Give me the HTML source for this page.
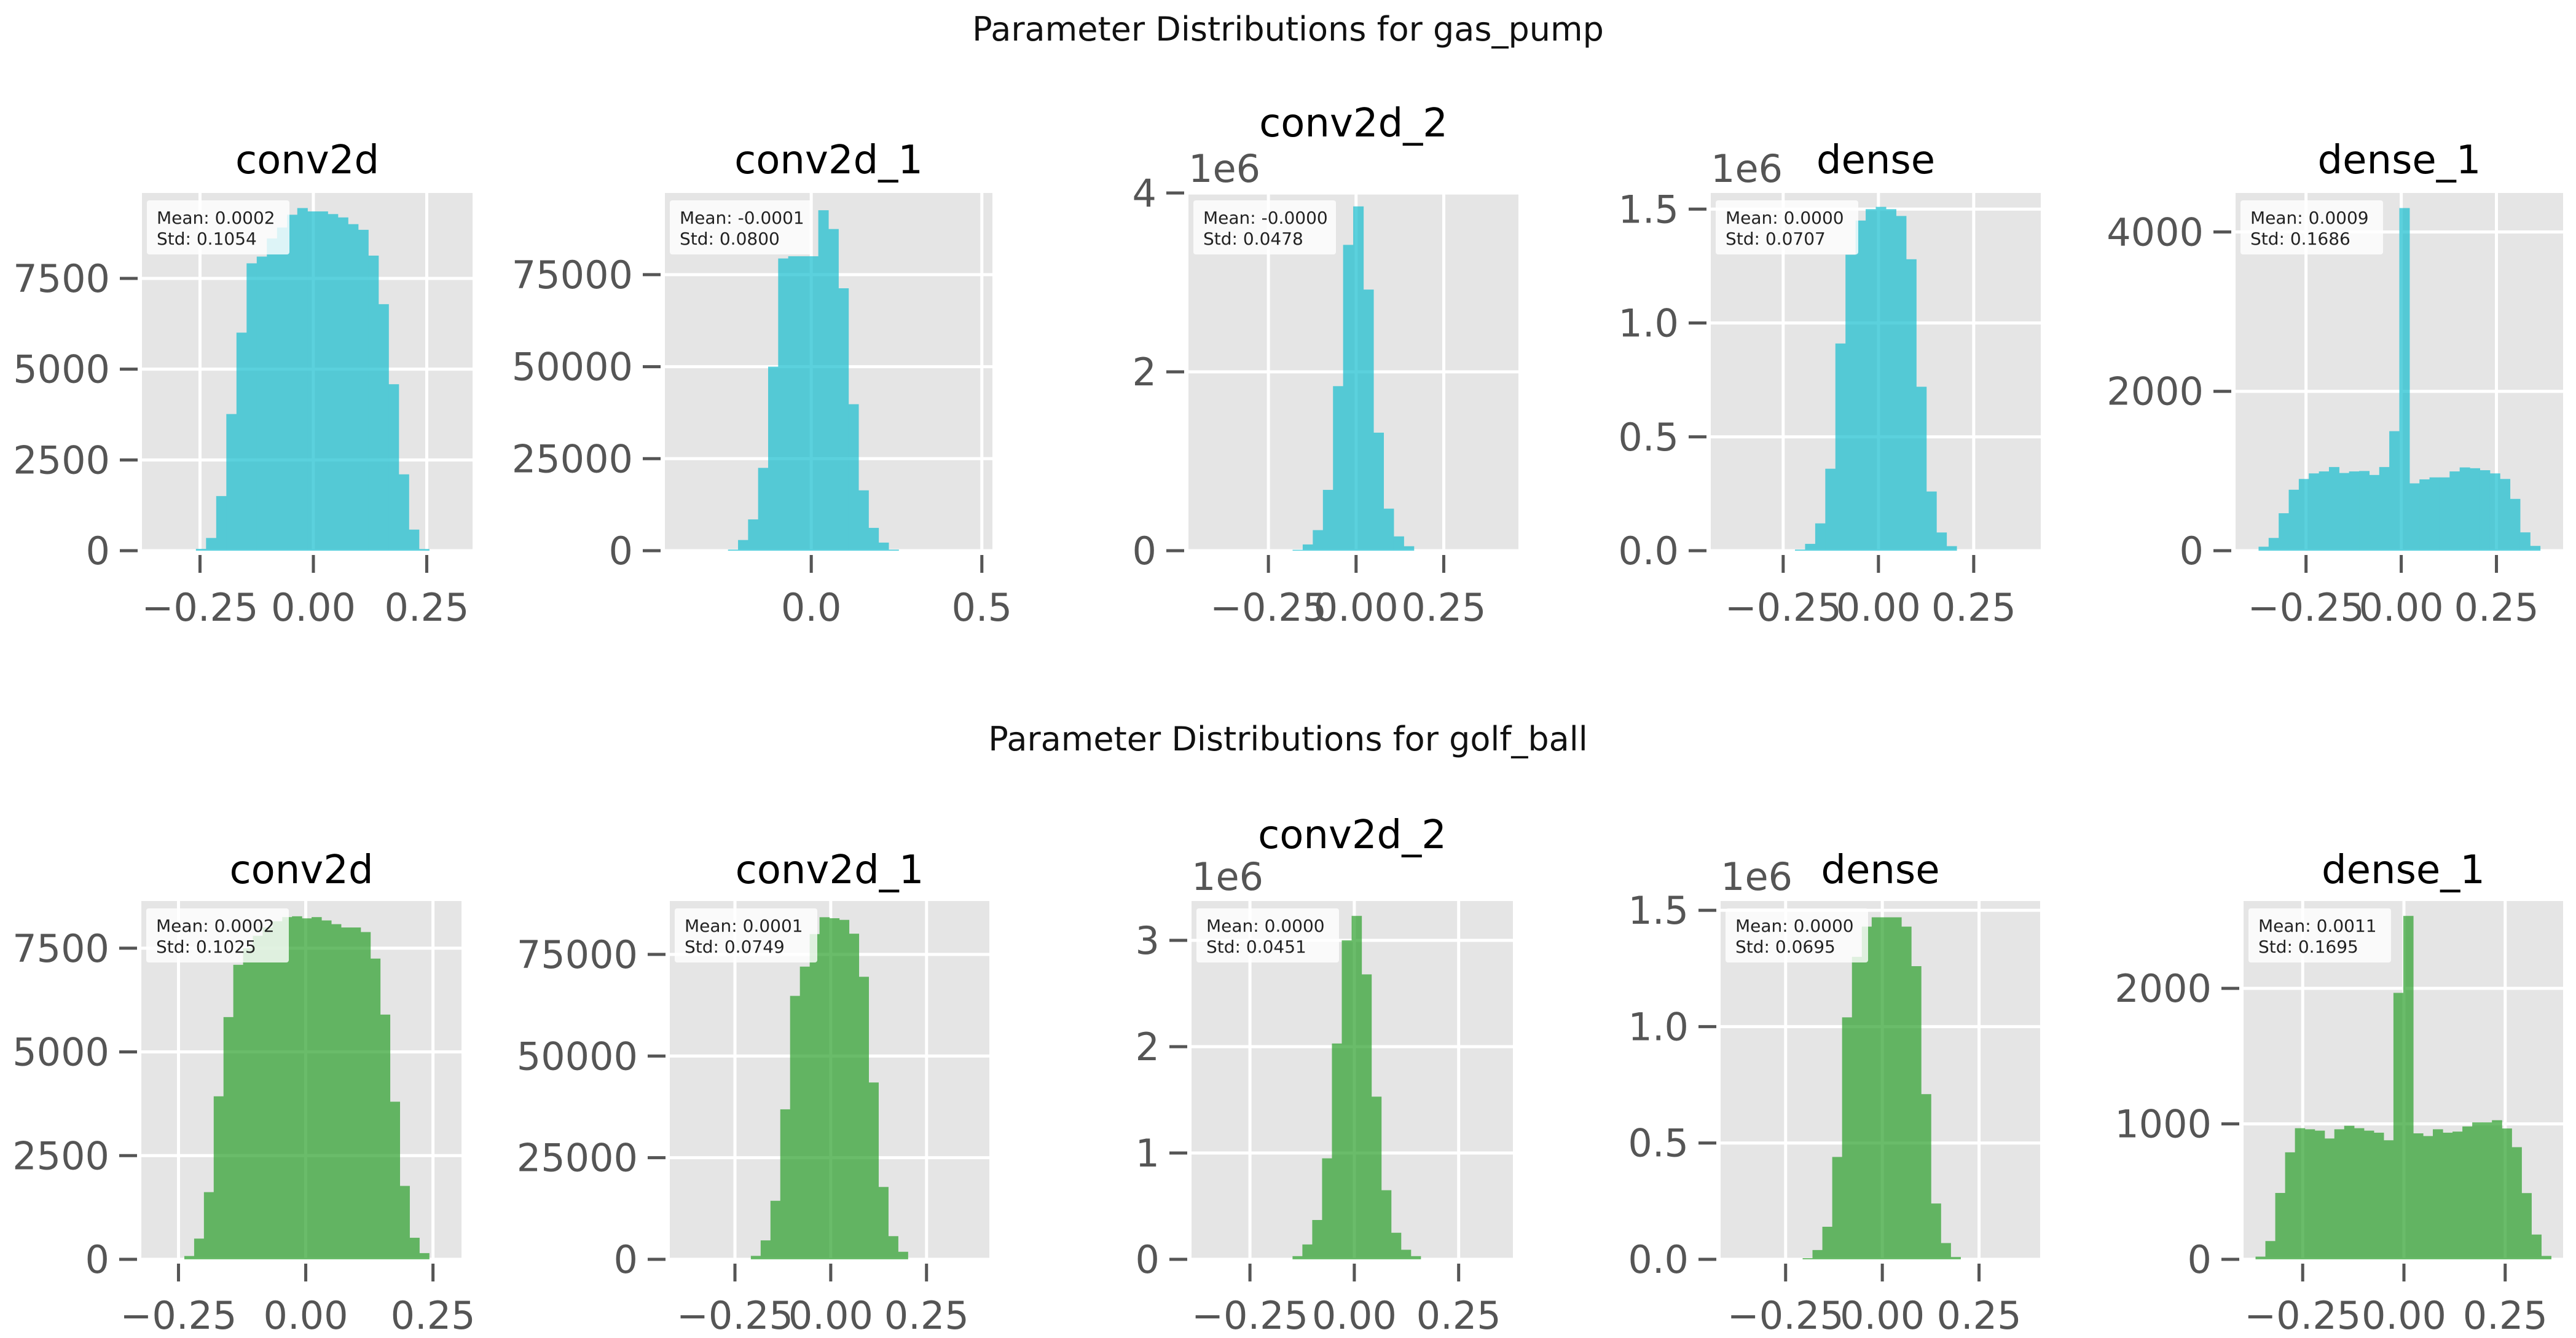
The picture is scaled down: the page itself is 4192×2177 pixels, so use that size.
<!DOCTYPE html>
<html><head><meta charset="utf-8">
<style>
html,body{margin:0;padding:0;background:#fff;}
svg{display:block;font-family:"DejaVu Sans","Liberation Sans",sans-serif;}
</style></head>
<body>
<svg id="fig" width="4192" height="2177" viewBox="0 0 4192 2177" xmlns="http://www.w3.org/2000/svg">
<rect width="4192" height="2177" fill="#ffffff"/>
<text x="2096" y="66" font-size="54" text-anchor="middle" fill="#111">Parameter Distributions for gas_pump</text>
<text x="2096" y="1221" font-size="54" text-anchor="middle" fill="#111">Parameter Distributions for golf_ball</text>
<g id="panels"></g>
</svg>
<script>
// ---------- data: gas_pump ----------
const gasConv2dCounts = [50,350,1504,3764,6006,7915,8100,8600,8900,9253,9437,9345,9345,9271,9179,8994,8838,8127,6790,4585,2103,581,46];
const gasConv2dBins = [-0.259,0.02235];
const gasConv2dXlim = [-0.378,0.351];
const gasConv2dYticks = [0,2500,5000,7500];
const gasConv2dYmax = 9852;

const gasConv2d1Counts = [300,2900,8500,22500,50000,79400,80000,80000,80000,92500,87400,71300,39800,16400,6200,2200,300];
const gasConv2d1Bins = [-0.244,0.0294];
const gasConv2d1Xlim = [-0.429,0.531];
const gasConv2d1Yticks = [0,25000,50000,75000];
const gasConv2d1Ymax = 97190;
const gasConv2d1Xticks = [0,0.5];
const gasConv2d1Xlabels = ["0.0","0.5"];

const gasConv2d2Counts = [0.01,0.07,0.23,0.68,1.84,3.42,3.85,2.92,1.32,0.47,0.16,0.05];
const gasConv2d2Bins = [-0.181,0.0288];
const gasConv2d2Xlim = [-0.478,0.463];
const gasConv2d2Yticks = [0,2,4];
const gasConv2d2Ymax = 4.0;

const gasDenseCounts = [0.005,0.03,0.12,0.36,0.91,1.30,1.45,1.50,1.51,1.50,1.47,1.28,0.72,0.26,0.08,0.02];
const gasDenseBins = [-0.219,0.0265];
const gasDenseXlim = [-0.44,0.426];
const gasDenseYticks = [0,0.5,1.0,1.5];
const gasDenseYlabels = ["0.0","0.5","1.0","1.5"];
const gasDenseYmax = 1.571;

const gasDense1Counts = [50,160,470,765,900,970,995,1050,975,995,1000,950,1050,1500,4300,845,895,920,920,995,1045,1035,1010,970,900,650,230,60];
const gasDense1Bins = [-0.3746,0.0264];
const gasDense1Xlim = [-0.435,0.425];
const gasDense1Yticks = [0,2000,4000];
const gasDense1Ymax = 4489;

// ---------- data: golf_ball ----------
const golfConv2dCounts = [80,500,1620,3930,5840,7100,7500,7800,8000,8150,8250,8270,8220,8250,8170,8080,8000,8000,7890,7250,5900,3800,1770,520,150];
const golfConv2dBins = [-0.2385,0.01923];
const golfConv2dXlim = [-0.323,0.306];
const golfConv2dYticks = [0,2500,5000,7500];
const golfConv2dYmax = 8638;

const golfConv2d1Counts = [850,4660,14400,36900,64800,72000,80000,84150,83900,83500,80100,69500,43500,17800,5700,1860];
const golfConv2d1Bins = [-0.2085,0.0256];
const golfConv2d1Xlim = [-0.42,0.414];
const golfConv2d1Yticks = [0,25000,50000,75000];
const golfConv2d1Ymax = 88136;

const golfConv2d2Counts = [0.03,0.14,0.37,0.95,2.03,3.0,3.23,2.68,1.53,0.65,0.25,0.09,0.03];
const golfConv2d2Bins = [-0.148,0.0236];
const golfConv2d2Xlim = [-0.39,0.38];
const golfConv2d2Yticks = [0,1,2,3];
const golfConv2d2Ymax = 3.37;

const golfDenseCounts = [0.005,0.04,0.14,0.44,1.04,1.30,1.43,1.47,1.47,1.47,1.43,1.26,0.71,0.24,0.07,0.01];
const golfDenseBins = [-0.206,0.0255];
const golfDenseXlim = [-0.418,0.408];
const golfDenseYticks = [0,0.5,1.0,1.5];
const golfDenseYlabels = ["0.0","0.5","1.0","1.5"];
const golfDenseYmax = 1.54;

const golfDense1Counts = [20,135,490,790,968,960,950,892,960,986,968,950,935,879,1967,2535,930,910,960,935,943,981,1011,1011,1027,966,828,489,183,25];
const golfDense1Bins = [-0.3664,0.02432];
const golfDense1Xlim = [-0.396,0.393];
const golfDense1Yticks = [0,1000,2000];
const golfDense1Ymax = 2645;

const defaultXticks = [-0.25,0,0.25];
const defaultXlabels = ["\u22120.25","0.00","0.25"];

const titles = ["conv2d","conv2d_1","conv2d_2","dense","dense_1"];
const gasMeans = ["0.0002","-0.0001","-0.0000","0.0000","0.0009"];
const gasStds = ["0.1054","0.0800","0.0478","0.0707","0.1686"];
const golfMeans = ["0.0002","0.0001","0.0000","0.0000","0.0011"];
const golfStds = ["0.1025","0.0749","0.0451","0.0695","0.1695"];

// ---------- layout ----------
const NS = "http://www.w3.org/2000/svg";
const root = document.getElementById('panels');
function mk(tag, attrs, parent){
  const e = document.createElementNS(NS, tag);
  for (const k in attrs) e.setAttribute(k, attrs[k]);
  (parent||root).appendChild(e);
  return e;
}
const rows = [
  {key:'gas', color:'#17becf', top:314, bottom:896, means:gasMeans, stds:gasStds,
   titleY:[282,282,222,282,282], xlabY:988,
   boxes:[[231,769],[1082,1615],[1934,2471],[2784,3321],[3638,4171]],
   panels:[
    {c:gasConv2dCounts,b:gasConv2dBins,xl:gasConv2dXlim,yt:gasConv2dYticks,ym:gasConv2dYmax},
    {c:gasConv2d1Counts,b:gasConv2d1Bins,xl:gasConv2d1Xlim,yt:gasConv2d1Yticks,ym:gasConv2d1Ymax,xt:gasConv2d1Xticks,xlab:gasConv2d1Xlabels},
    {c:gasConv2d2Counts,b:gasConv2d2Bins,xl:gasConv2d2Xlim,yt:gasConv2d2Yticks,ym:gasConv2d2Ymax,off:true},
    {c:gasDenseCounts,b:gasDenseBins,xl:gasDenseXlim,yt:gasDenseYticks,ylab:gasDenseYlabels,ym:gasDenseYmax,off:true},
    {c:gasDense1Counts,b:gasDense1Bins,xl:gasDense1Xlim,yt:gasDense1Yticks,ym:gasDense1Ymax}]},
  {key:'golf', color:'#2ca02c', top:1466, bottom:2049, means:golfMeans, stds:golfStds,
   titleY:[1437,1437,1380,1437,1437], xlabY:2140,
   boxes:[[230,751],[1090,1610],[1939,2462],[2800,3320],[3651,4171]],
   panels:[
    {c:golfConv2dCounts,b:golfConv2dBins,xl:golfConv2dXlim,yt:golfConv2dYticks,ym:golfConv2dYmax},
    {c:golfConv2d1Counts,b:golfConv2d1Bins,xl:golfConv2d1Xlim,yt:golfConv2d1Yticks,ym:golfConv2d1Ymax},
    {c:golfConv2d2Counts,b:golfConv2d2Bins,xl:golfConv2d2Xlim,yt:golfConv2d2Yticks,ym:golfConv2d2Ymax,off:true},
    {c:golfDenseCounts,b:golfDenseBins,xl:golfDenseXlim,yt:golfDenseYticks,ylab:golfDenseYlabels,ym:golfDenseYmax,off:true},
    {c:golfDense1Counts,b:golfDense1Bins,xl:golfDense1Xlim,yt:golfDense1Yticks,ym:golfDense1Ymax}]}
];

rows.forEach(row => {
  row.panels.forEach((p, i) => {
    const L = row.boxes[i][0], R = row.boxes[i][1], T = row.top, B = row.bottom;
    const g = mk('g', {});
    
    
    const xs = v => L + (v - p.xl[0]) / (p.xl[1] - p.xl[0]) * (R - L);
    const ys = v => B - v / p.ym * (B - T);
    const bg = mk('rect', {x:L, y:T, width:R-L, height:B-T, fill:'#e5e5e5'}, g);
    
    
    const xt = p.xt || defaultXticks, xlab = p.xlab || defaultXlabels;
    p.yt.forEach(v => {
      const ln = mk('line', {x1:L, x2:R, y1:ys(v), y2:ys(v), stroke:'#ffffff', 'stroke-width':5}, g);
      
      
    });
    xt.forEach(v => {
      const ln = mk('line', {x1:xs(v), x2:xs(v), y1:T, y2:B, stroke:'#ffffff', 'stroke-width':5}, g);
      
      
    });
    const bars = mk('g', {opacity:0.7}, g);
    
    
    p.c.forEach((v, k) => {
      const x0 = xs(p.b[0] + k * p.b[1]), x1 = xs(p.b[0] + (k + 1) * p.b[1]);
      const r = mk('rect', {x:x0, y:ys(v), width:x1 - x0 + 0.6, height:B - ys(v), fill:row.color}, bars);
      
      
    });
    p.yt.forEach((v, k) => {
      const y = ys(v);
      const t = mk('line', {x1:L-36, x2:L-7, y1:y, y2:y, stroke:'#555', 'stroke-width':5}, g);
      
      
      const lab = mk('text', {x:L-52, y:y+22, 'font-size':62, 'text-anchor':'end', fill:'#555'}, g);
      lab.textContent = p.ylab ? p.ylab[k] : String(v);
      
      
    });
    xt.forEach((v, k) => {
      const x = xs(v);
      const t = mk('line', {x1:x, x2:x, y1:B+7, y2:B+36, stroke:'#555', 'stroke-width':5}, g);
      
      
      const lab = mk('text', {x:x, y:row.xlabY + 22, 'font-size':62, 'text-anchor':'middle', fill:'#555'}, g);
      lab.textContent = xlab[k];
      
      
    });
    if (p.off) {
      const o = mk('text', {x:L, y:T-18, 'font-size':62, fill:'#555'}, g);
      o.textContent = '1e6';
      
      
    }
    const ti = mk('text', {x:(L+R)/2, y:row.titleY[i], 'font-size':64, 'text-anchor':'middle', fill:'#000'}, g);
    ti.textContent = titles[i];
    
    
    const sb = mk('g', {}, g);
    
    
    mk('rect', {x:L+8, y:T+12, width:232, height:88, fill:'#ffffff', 'fill-opacity':0.8, rx:4}, sb);
    const t1 = mk('text', {x:L+24, y:T+50, 'font-size':28, fill:'#222'}, sb);
    t1.textContent = 'Mean: ' + row.means[i];
    const t2 = mk('text', {x:L+24, y:T+84, 'font-size':28, fill:'#222'}, sb);
    t2.textContent = 'Std: ' + row.stds[i];
  });
});
</script>
</body></html>
